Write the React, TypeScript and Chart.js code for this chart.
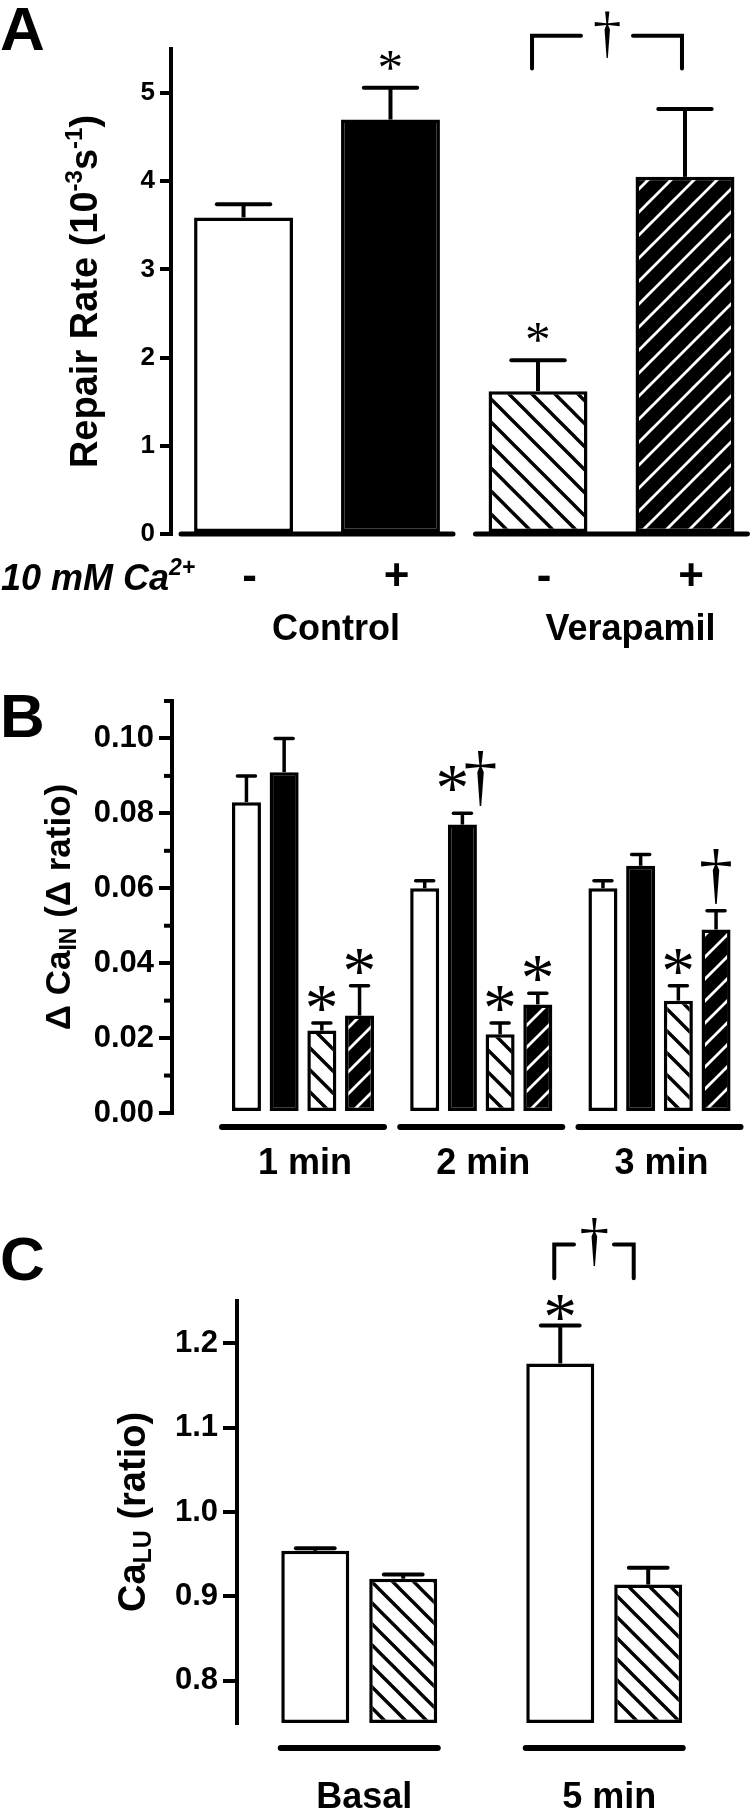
import React, { useEffect, useRef } from 'react';
import { Chart, registerables } from 'chart.js';

Chart.register(...registerables);

const SANS = '"Liberation Sans", Arial, Helvetica, sans-serif';
const SERIF = '"Liberation Serif", "Times New Roman", Times, serif';

// ---------------- Panel A : repair rate ----------------
const A_GROUPS = ['Control', 'Verapamil'];
const A_CA_SIGNS = ['-', '+'];
const A_NO_CA = [3.59, 1.62];
const A_NO_CA_SEM = [0.15, 0.35];
const A_WITH_CA = [4.70, 4.05];
const A_WITH_CA_SEM = [0.36, 0.77];
const A_NO_CA_MARKS = ['', '*'];
const A_WITH_CA_MARKS = ['*', ''];
const A_Y_TICKS = [0, 1, 2, 3, 4, 5];

// ---------------- Panel B : delta Ca IN ----------------
const B_TIMES = ['1 min', '2 min', '3 min'];
const B_CTRL_NO_CA = [0.083, 0.060, 0.060];
const B_CTRL_NO_CA_SEM = [0.007, 0.002, 0.002];
const B_CTRL_WITH_CA = [0.091, 0.077, 0.066];
const B_CTRL_WITH_CA_SEM = [0.009, 0.003, 0.003];
const B_VERA_NO_CA = [0.022, 0.021, 0.030];
const B_VERA_NO_CA_SEM = [0.002, 0.003, 0.004];
const B_VERA_WITH_CA = [0.026, 0.029, 0.049];
const B_VERA_WITH_CA_SEM = [0.008, 0.003, 0.005];
const B_CTRL_NO_CA_MARKS = ['', '', ''];
const B_CTRL_WITH_CA_MARKS = ['', '*†', ''];
const B_VERA_NO_CA_MARKS = ['*', '*', '*'];
const B_VERA_WITH_CA_MARKS = ['*', '*', '†'];
const B_Y_TICKS = [0, 0.01, 0.02, 0.03, 0.04, 0.05, 0.06, 0.07, 0.08, 0.09, 0.10, 0.11];
const B_Y_LABELED = [0, 0.02, 0.04, 0.06, 0.08, 0.10];

// ---------------- Panel C : Ca LU ----------------
const C_TIMES = ['Basal', '5 min'];
const C_CTRL = [0.954, 1.176];
const C_CTRL_SEM = [0.003, 0.045];
const C_VERA = [0.921, 0.914];
const C_VERA_SEM = [0.005, 0.020];
const C_CTRL_MARKS = ['', '*'];
const C_VERA_MARKS = ['', ''];
const C_Y_TICKS = [0.8, 0.9, 1.0, 1.1, 1.2];

interface Series { values: number[]; sem: number[]; fills: string[]; marks: string[]; }
interface Run { t: string; size: number; dy?: number; style?: string; }
interface Bracket { group: number; from: number; to: number; top: number; bottom: number; dl: number; dr: number; gap: number; mark: string; markH: number; markDrop: number; }
interface PanelCfg {
  canvasTop: number; canvasHeight: number;
  axisX: number; padTop: number; padBottom: number;
  yMin: number; yMax: number; yTicks: number[]; yLabeled: number[]; yFmt: (v: number) => string;
  tickSize: number; tickLen: number; minorLen: number;
  xMin: number; xMax: number; catPct: number; barPct: number;
  groups: string[]; series: Series[];
  borderW: number; errW: number; capFrac: number; hatchPeriod: number;
  starH: number; daggerH: number; starGap: number; daggerGap: number;
  groupLineY: 'zero' | number; groupLineHalf: number; groupLineW: number;
  groupLabelSize: number; groupLabelBaseline: number; groupLabelDx: number;
  titleRuns: Run[]; titleX: number;
  letter: string; letterBaseline: number;
  brackets: Bracket[];
  signs?: string[]; signsBaseline?: number; signsSize?: number; signsDx?: number;
  caRuns?: Run[]; caX?: number; caBaseline?: number;
}

const PANEL_A: PanelCfg = {
  canvasTop: 0, canvasHeight: 650,
  axisX: 171, padTop: 49, padBottom: 116,
  yMin: 0, yMax: 5.5, yTicks: A_Y_TICKS, yLabeled: A_Y_TICKS, yFmt: (v) => String(v),
  tickSize: 26, tickLen: 11, minorLen: 8,
  xMin: -0.4958, xMax: 1.4703, catPct: 0.998, barPct: 0.673,
  groups: A_GROUPS,
  series: [
    { values: A_NO_CA, sem: A_NO_CA_SEM, fills: ['white', 'hatchW'], marks: A_NO_CA_MARKS },
    { values: A_WITH_CA, sem: A_WITH_CA_SEM, fills: ['black', 'hatchB'], marks: A_WITH_CA_MARKS },
  ],
  borderW: 3.5, errW: 4, capFrac: 0.54, hatchPeriod: 23,
  starH: 19, daggerH: 46, starGap: 18, daggerGap: 7,
  groupLineY: 'zero', groupLineHalf: 136, groupLineW: 5,
  groupLabelSize: 36, groupLabelBaseline: 640, groupLabelDx: 19,
  titleRuns: [
    { t: 'Repair Rate (10', size: 38 },
    { t: '-3', size: 24, dy: -15 },
    { t: 's', size: 38 },
    { t: '-1', size: 24, dy: -15 },
    { t: ')', size: 38 },
  ],
  titleX: 97,
  letter: 'A', letterBaseline: 50,
  brackets: [{ group: 1, from: 0, to: 1, top: 5.65, bottom: 5.28, dl: -6, dr: -3, gap: 26, mark: '†', markH: 46, markDrop: 22 }],
  signs: A_CA_SIGNS, signsBaseline: 590, signsSize: 44, signsDx: 6,
  caRuns: [
    { t: '10 mM Ca', size: 36, style: 'italic bold' },
    { t: '2+', size: 23, dy: -15, style: 'italic bold' },
  ],
  caX: 1, caBaseline: 590,
};

const PANEL_B: PanelCfg = {
  canvasTop: 650, canvasHeight: 560,
  axisX: 172, padTop: 51, padBottom: 97,
  yMin: 0, yMax: 0.11, yTicks: B_Y_TICKS, yLabeled: B_Y_LABELED, yFmt: (v) => v.toFixed(2),
  tickSize: 31, tickLen: 13, minorLen: 8,
  xMin: -0.7349, xMax: 2.5077, catPct: 0.846, barPct: 0.77,
  groups: B_TIMES,
  series: [
    { values: B_CTRL_NO_CA, sem: B_CTRL_NO_CA_SEM, fills: ['white', 'white', 'white'], marks: B_CTRL_NO_CA_MARKS },
    { values: B_CTRL_WITH_CA, sem: B_CTRL_WITH_CA_SEM, fills: ['black', 'black', 'black'], marks: B_CTRL_WITH_CA_MARKS },
    { values: B_VERA_NO_CA, sem: B_VERA_NO_CA_SEM, fills: ['hatchW', 'hatchW', 'hatchW'], marks: B_VERA_NO_CA_MARKS },
    { values: B_VERA_WITH_CA, sem: B_VERA_WITH_CA_SEM, fills: ['hatchB', 'hatchB', 'hatchB'], marks: B_VERA_WITH_CA_MARKS },
  ],
  borderW: 3.5, errW: 3.5, capFrac: 0.62, hatchPeriod: 22,
  starH: 25, daggerH: 55, starGap: 12, daggerGap: 7,
  groupLineY: 14, groupLineHalf: 81, groupLineW: 6,
  groupLabelSize: 36, groupLabelBaseline: 524, groupLabelDx: 2,
  titleRuns: [
    { t: 'Δ Ca', size: 35 },
    { t: 'IN', size: 23, dy: 6 },
    { t: ' (Δ ratio)', size: 35 },
  ],
  titleX: 70,
  letter: 'B', letterBaseline: 87,
  brackets: [],
};

const PANEL_C: PanelCfg = {
  canvasTop: 1210, canvasHeight: 601,
  axisX: 237, padTop: 91, padBottom: 88,
  yMin: 0.75, yMax: 1.25, yTicks: C_Y_TICKS, yLabeled: C_Y_TICKS, yFmt: (v) => v.toFixed(1),
  tickSize: 31, tickLen: 14, minorLen: 8,
  xMin: -0.499, xMax: 1.595, catPct: 0.718, barPct: 0.773,
  groups: C_TIMES,
  series: [
    { values: C_CTRL, sem: C_CTRL_SEM, fills: ['white', 'white'], marks: C_CTRL_MARKS },
    { values: C_VERA, sem: C_VERA_SEM, fills: ['hatchW', 'hatchW'], marks: C_VERA_MARKS },
  ],
  borderW: 3.5, errW: 4, capFrac: 0.57, hatchPeriod: 21,
  starH: 25, daggerH: 48, starGap: 5, daggerGap: 7,
  groupLineY: 25, groupLineHalf: 78.5, groupLineW: 6,
  groupLabelSize: 36, groupLabelBaseline: 598, groupLabelDx: 5,
  titleRuns: [
    { t: 'Ca', size: 38 },
    { t: 'LU', size: 25, dy: 6 },
    { t: ' (ratio)', size: 38 },
  ],
  titleX: 145,
  letter: 'C', letterBaseline: 70,
  brackets: [{ group: 1, from: 0, to: 1, top: 1.317, bottom: 1.277, dl: -6, dr: -14.5, gap: 20, mark: '†', markH: 48, markDrop: 22 }],
};

function makeHatch(ctx: CanvasRenderingContext2D, bg: string, fg: string, period: number, lw: number, dir: 'down' | 'up') {
  const c = document.createElement('canvas');
  c.width = period; c.height = period;
  const g = c.getContext('2d')!;
  g.fillStyle = bg; g.fillRect(0, 0, period, period);
  g.strokeStyle = fg; g.lineWidth = lw; g.lineCap = 'square';
  g.beginPath();
  for (let k = -1; k <= 1; k++) {
    if (dir === 'down') { g.moveTo(k * period, 0); g.lineTo(k * period + period, period); }
    else { g.moveTo(k * period, period); g.lineTo(k * period + period, 0); }
  }
  g.stroke();
  return ctx.createPattern(c, 'repeat')!;
}

function drawGlyph(c: CanvasRenderingContext2D, text: string, cx: number, bottom: number, h: number) {
  c.save();
  c.textAlign = 'left'; c.textBaseline = 'alphabetic';
  c.font = `100px ${SERIF}`;
  const m = c.measureText(text);
  const mh = m.actualBoundingBoxAscent + m.actualBoundingBoxDescent || 50;
  const size = (100 * h) / mh;
  c.font = `${size}px ${SERIF}`;
  const m2 = c.measureText(text);
  const w = m2.actualBoundingBoxLeft + m2.actualBoundingBoxRight;
  const x = cx + m2.actualBoundingBoxLeft - w / 2;
  const y = bottom - m2.actualBoundingBoxDescent;
  c.fillStyle = '#000';
  c.fillText(text, x, y);
  c.restore();
}

function drawRuns(c: CanvasRenderingContext2D, runs: Run[], x: number, y: number, rotate: boolean, align: 'center' | 'left') {
  c.save();
  c.translate(x, y);
  if (rotate) c.rotate(-Math.PI / 2);
  c.fillStyle = '#000'; c.textBaseline = 'alphabetic'; c.textAlign = 'left';
  const fonts = runs.map((r) => `${r.style ?? 'bold'} ${r.size}px ${SANS}`);
  const widths = runs.map((r, i) => { c.font = fonts[i]; return c.measureText(r.t).width; });
  const total = widths.reduce((a, b) => a + b, 0);
  let px = align === 'center' ? -total / 2 : 0;
  runs.forEach((r, i) => { c.font = fonts[i]; c.fillText(r.t, px, r.dy ?? 0); px += widths[i]; });
  c.restore();
}

function drawMarks(c: CanvasRenderingContext2D, mark: string, bx: number, errPx: number, cfg: PanelCfg) {
  if (!mark) return;
  if (mark === '*') drawGlyph(c, '*', bx, errPx - cfg.starGap, cfg.starH);
  else if (mark === '†') drawGlyph(c, '†', bx, errPx - cfg.daggerGap, cfg.daggerH);
  else if (mark === '*†') {
    drawGlyph(c, '*', bx - 10, errPx - 22, cfg.starH);
    drawGlyph(c, '†', bx + 18, errPx - cfg.daggerGap, cfg.daggerH);
  }
}

function buildChart(canvas: HTMLCanvasElement, cfg: PanelCfg) {
  const ctx = canvas.getContext('2d')!;
  const fills: Record<string, any> = {
    white: '#ffffff',
    black: '#000000',
    hatchW: makeHatch(ctx, '#ffffff', '#000000', cfg.hatchPeriod, 3.4, 'down'),
    hatchB: makeHatch(ctx, '#000000', '#ffffff', cfg.hatchPeriod, 2.8, 'up'),
  };
  const isLabeled = (v: number) => cfg.yLabeled.some((t) => Math.abs(t - v) < 1e-9);

  const datasets = cfg.series.map((s) => ({
    data: s.values.map((v, i) => ({ x: i, y: v })),
    backgroundColor: s.fills.map((f) => fills[f]),
    borderColor: '#000000',
    borderWidth: cfg.borderW,
    borderSkipped: false as any,
    base: cfg.yMin,
    categoryPercentage: cfg.catPct,
    barPercentage: cfg.barPct,
  }));

  const annot = {
    id: 'annot',
    afterDatasetsDraw(chart: any) {
      const c: CanvasRenderingContext2D = chart.ctx;
      const ys = chart.scales.y;
      const xs = chart.scales.x;
      const area = chart.chartArea;
      c.save();
      c.strokeStyle = '#000'; c.fillStyle = '#000';

      // error bars + significance marks
      cfg.series.forEach((s, d) => {
        const meta = chart.getDatasetMeta(d);
        meta.data.forEach((el: any, i: number) => {
          const bx = el.x; const bw = el.width;
          const topPx = ys.getPixelForValue(s.values[i]);
          const errPx = ys.getPixelForValue(s.values[i] + s.sem[i]);
          c.lineWidth = cfg.errW; c.lineCap = 'butt';
          c.beginPath(); c.moveTo(bx, topPx); c.lineTo(bx, errPx); c.stroke();
          c.lineCap = 'round';
          const hw = (bw * cfg.capFrac) / 2;
          c.beginPath(); c.moveTo(bx - hw, errPx); c.lineTo(bx + hw, errPx); c.stroke();
          drawMarks(c, s.marks[i], bx, errPx, cfg);
        });
      });

      // group underline + group label
      cfg.groups.forEach((g, gi) => {
        const gx = xs.getPixelForValue(gi);
        const ly = cfg.groupLineY === 'zero' ? ys.getPixelForValue(0) : area.bottom + (cfg.groupLineY as number);
        c.lineWidth = cfg.groupLineW; c.lineCap = 'round';
        c.beginPath(); c.moveTo(gx - cfg.groupLineHalf, ly); c.lineTo(gx + cfg.groupLineHalf, ly); c.stroke();
        c.font = `bold ${cfg.groupLabelSize}px ${SANS}`;
        c.textAlign = 'center'; c.textBaseline = 'alphabetic';
        c.fillText(g, gx + cfg.groupLabelDx, cfg.groupLabelBaseline);
      });

      // brackets
      cfg.brackets.forEach((b) => {
        const x1 = chart.getDatasetMeta(b.from).data[b.group].x + b.dl;
        const x2 = chart.getDatasetMeta(b.to).data[b.group].x + b.dr;
        const yt = ys.getPixelForValue(b.top);
        const yb = ys.getPixelForValue(b.bottom);
        const mid = (x1 + x2) / 2;
        c.lineWidth = 4; c.lineCap = 'round'; c.lineJoin = 'miter';
        c.beginPath(); c.moveTo(x1, yb); c.lineTo(x1, yt); c.lineTo(mid - b.gap, yt); c.stroke();
        c.beginPath(); c.moveTo(mid + b.gap, yt); c.lineTo(x2, yt); c.lineTo(x2, yb); c.stroke();
        drawGlyph(c, b.mark, mid, yt + b.markDrop, b.markH);
      });

      // minor ticks
      cfg.yTicks.forEach((v) => {
        if (isLabeled(v)) return;
        const py = ys.getPixelForValue(v);
        c.lineWidth = 4; c.lineCap = 'butt';
        c.beginPath(); c.moveTo(cfg.axisX - cfg.minorLen, py); c.lineTo(cfg.axisX, py); c.stroke();
      });

      // y title
      drawRuns(c, cfg.titleRuns, cfg.titleX, (area.top + area.bottom) / 2, true, 'center');

      // panel letter
      c.font = `bold 62px ${SANS}`; c.textAlign = 'left'; c.textBaseline = 'alphabetic';
      c.fillText(cfg.letter, 0, cfg.letterBaseline);

      // Ca row (panel A)
      if (cfg.signs) {
        c.font = `bold ${cfg.signsSize}px ${SANS}`; c.textAlign = 'center';
        cfg.series.forEach((s, d) => {
          chart.getDatasetMeta(d).data.forEach((el: any) => {
            c.fillText(cfg.signs![d], el.x + (cfg.signsDx ?? 0), cfg.signsBaseline!);
          });
        });
      }
      if (cfg.caRuns) drawRuns(c, cfg.caRuns, cfg.caX!, cfg.caBaseline!, false, 'left');
      c.restore();
    },
  };

  return new Chart(canvas, {
    type: 'bar',
    data: { datasets: datasets as any },
    options: {
      responsive: false,
      animation: false,
      layout: { padding: { left: 0, right: 0, top: cfg.padTop, bottom: cfg.padBottom } },
      plugins: { legend: { display: false }, tooltip: { enabled: false }, title: { display: false } },
      scales: {
        x: {
          type: 'linear', display: false, offset: false, grace: 0, bounds: 'ticks',
          min: cfg.xMin, max: cfg.xMax,
          grid: { offset: false },
          afterBuildTicks: (s: any) => { s.ticks = cfg.groups.map((_, i) => ({ value: i })); },
        },
        y: {
          type: 'linear', min: cfg.yMin, max: cfg.yMax,
          afterBuildTicks: (s: any) => { s.ticks = cfg.yTicks.map((v) => ({ value: v })); },
          afterFit: (s: any) => { s.width = cfg.axisX; },
          ticks: {
            autoSkip: false, padding: 5, color: '#000',
            font: { family: SANS, size: cfg.tickSize, weight: 'bold' },
            callback: (v: any) => (isLabeled(Number(v)) ? cfg.yFmt(Number(v)) : ''),
          },
          grid: {
            display: true, drawOnChartArea: false, drawTicks: true,
            tickLength: cfg.tickLen, tickWidth: 4, lineWidth: 4, color: '#000',
            tickColor: (c: any) => (c.tick && isLabeled(c.tick.value) ? '#000' : 'rgba(0,0,0,0)'),
          },
          border: { display: true, width: 4, color: '#000' },
        },
      },
    } as any,
    plugins: [annot],
  });
}

function Panel({ cfg }: { cfg: PanelCfg }) {
  const ref = useRef<HTMLCanvasElement>(null);
  useEffect(() => {
    const chart = buildChart(ref.current!, cfg);
    return () => chart.destroy();
  }, [cfg]);
  return (
    <canvas
      ref={ref}
      width={750}
      height={cfg.canvasHeight}
      style={{ position: 'absolute', left: 0, top: cfg.canvasTop, width: 750, height: cfg.canvasHeight, display: 'block' }}
    />
  );
}

export default function App() {
  return (
    <div style={{ position: 'absolute', left: 0, top: 0, width: 750, height: 1811, background: '#fff', overflow: 'hidden' }}>
      <Panel cfg={PANEL_A} />
      <Panel cfg={PANEL_B} />
      <Panel cfg={PANEL_C} />
    </div>
  );
}
